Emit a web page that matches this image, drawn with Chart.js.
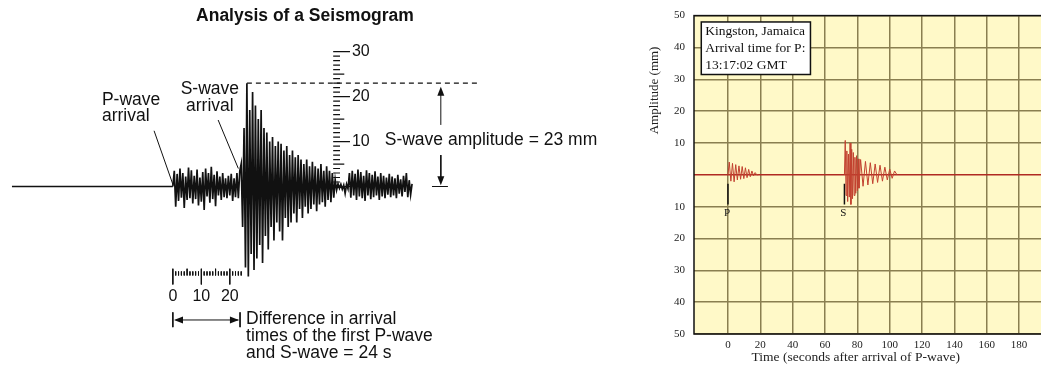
<!DOCTYPE html>
<html>
<head>
<meta charset="utf-8">
<script src="https://cdn.jsdelivr.net/npm/chart.js@4.4.1/dist/chart.umd.min.js"></script>
<style>
    html, body { margin: 0; padding: 0; overflow: hidden; background: #fff; width: 1041px; height: 373px; }
    #seismo-left { position: absolute; left: 0; top: 0; }
    #seismo-right { position: absolute; left: 600px; top: 0; }
</style>
</head>
<body>
<canvas id="seismo-left" width="600" height="373"></canvas>
<canvas id="seismo-right" width="500" height="373"></canvas>
<script>
// ---- left panel: textbook seismogram (time in s, amplitude in mm) ----
const seisStep = 0.5
const seisAmp = [
    0, 3.5, -4.5, 2.8, -3.2, 4.0, -2.5, 3.0, -4.8, 2.2,
    -3.0, 4.2, -2.6, 3.6, -3.8, 2.4, -2.8, 3.8, -4.2, 2.0,
    -3.4, 3.2, -5.2, 4.0, -2.2, 3.0, -3.6, 4.4, -2.8, 2.6,
    -4.4, 3.4, -2.0, 2.2, -3.0, 3.0, -2.4, 1.8, -2.6, 2.4,
    -2.0, 2.8, -3.2, 1.8, -2.4, 3.0, -2.6, 3.4,
    5, -9, 13, -18, 23, -20, 17, -15, 21, -18.6,
    18, -16, 15, -13, 17, -17, 13, -11, 12, -14,
    10, -9, 11, -12, 9, -8, 10, -10, 9.5, -12,
    8, -7, 9, -9, 7, -8, 8, -6, 6.5, -8,
    7, -5, 6, -7, 5, -4.5, 6, -6, 4.5, -5,
    5.5, -4, 4.5, -5.5, 4, -4, 5, -3.5, 3.5, -4.5,
    4.5, -3, 3.5, -3.5, 3, -2.5, 1.5, -0.8, 0.6, -0.4,
    0.5, -0.6, 0.3, -1.5, 0.5, -0.5,
    3, -2.5, 3.5, -2, 2.8, -3, 3.8, -2.2, 3.2, -2.6,
    2.4, -3.2, 3.6, -2, 3, -2.8, 2.6, -2.4, 3.4, -2,
    2.2, -3, 3, -2.2, 2.4, -2.6, 2, -1.8, 2.8, -2.4,
    2.2, -2, 1.8, -2.6, 2.6, -1.6, 1.6, -2.2, 2.4, -1.2,
    3, -2.4, 1.4, -1.8, 0.6
]
const preEventStart = -56.5
const timeRulerTicks = [0, 1, 2, 3, 4, 5, 6, 7, 8, 9, 10, 11, 12, 13, 14, 15, 16, 17, 18, 19, 20, 21, 22, 23, 24]
const timeLabels = [0, 10, 20]
const ampRulerTicks = [0, 1, 2, 3, 4, 5, 6, 7, 8, 9, 10, 11, 12, 13, 14, 15, 16, 17, 18, 19, 20, 21, 22, 23, 24, 25, 26, 27, 28, 29, 30]
const ampLabels = [10, 20, 30]
const sAmplitude = 23   // mm
const spDifference = 24 // s

// ---- right panel: Kingston, Jamaica record ----
const pTime = [0, 0.8, 1.8, 2.8, 3.8, 4.8, 5.8, 6.8, 7.8, 8.8, 9.8, 10.8, 11.8, 12.8, 13.8, 14.8, 15.8, 16.8, 17.8, 18.8]
const pAmp = [0, 4, -2, 3.6, -2.2, 3.2, -1.6, 2.8, -1.4, 2.6, -1.2, 2.2, -0.9, 1.7, -0.6, 1.2, -0.3, 0.7, 0, 0]
const sTime = [72, 72.5, 73, 73.5, 74, 74.5, 75, 75.5, 76, 76.5, 77, 77.5, 78, 78.5, 79, 79.5, 80, 80.5, 81,
    82, 83.5, 85, 86.5, 88, 89.5, 91, 92.5, 94, 95.5, 97, 98.5, 100, 101.5, 103, 104.5]
const sAmp = [0, 10.8, -6.5, 7.5, -8.4, 6.5, -7, 10, -9.3, 8, -7.5, 7, -6.5, 5.5, -5.8, 6, -5, 5, -4.2,
    4.8, -3.6, 4.2, -3.2, 3.8, -2.8, 3.4, -2.4, 3, -2, 2.4, -1.6, 1.8, -1.1, 1.2, 0]
const xTicks = [0, 20, 40, 60, 80, 100, 120, 140, 160, 180, 200, 220]
const yTicks = [-50, -40, -30, -20, -10, 0, 10, 20, 30, 40, 50]
const pArrival = 0
const sArrival = 72
const stationLines = ['Kingston, Jamaica', 'Arrival time for P:', '13:17:02 GMT']

const ink = '#111'
const sans = "'Liberation Sans', Arial, sans-serif"
const serif = "'Liberation Serif', 'Times New Roman', serif"

// turn a list of segments into one dataset with gaps
function segments(list) {
    const out = []
    list.forEach(s => {
        s.forEach(p => out.push({ x: p[0], y: p[1] }))
        out.push({ x: s[0][0], y: null })
    })
    return out
}

function lineSet(data, width, dash) {
    return {
        data: data, borderColor: ink, borderWidth: width, borderDash: dash || [],
        pointRadius: 0, fill: false, tension: 0, spanGaps: false
    }
}

// Left panel.
const timeRuler = timeRulerTicks.map(t => {
    if (t % 10 === 0) return [[t, -18.3], [t, -21.8]]
    if (t % 5 === 0) return [[t, -18.3], [t, -19.8]]
    return [[t, -18.9], [t, -19.8]]
})
const ampRuler = ampRulerTicks.map(a => {
    if (a % 10 === 0) return [[56.3, a], [62.2, a]]
    if (a % 5 === 0) return [[56.3, a], [60.2, a]]
    return [[56.3, a], [58.7, a]]
})
const guides = [
    [[-6.6, 12.4], [0.1, 0.3]],
    [[15.9, 14.8], [23.0, 4.0]],
    [[94.1, 13.7], [94.1, 21]],
    [[94.1, 7], [94.1, 1.5]],
    [[91, 0], [96.6, 0]],
    [[1, -29.7], [23, -29.7]],
    [[0, -28.0], [0, -31.3]],
    [[23.6, -28.0], [23.6, -31.3]]
]

const leftText = [
    { text: 'Analysis of a Seismogram', t: 46.4, a: 37.9, align: 'center', font: 'bold 17.5px ' + sans },
    { text: 'P-wave', t: -24.9, a: 19.2, align: 'left', font: '17.5px ' + sans },
    { text: 'arrival', t: -24.9, a: 15.6, align: 'left', font: '17.5px ' + sans },
    { text: 'S-wave', t: 13.0, a: 21.7, align: 'center', font: '17.5px ' + sans },
    { text: 'arrival', t: 13.0, a: 17.8, align: 'center', font: '17.5px ' + sans },
    { text: 'S-wave amplitude = ' + sAmplitude + ' mm', t: 74.4, a: 10.3, align: 'left', font: '17.5px ' + sans },
    { text: 'Difference in arrival', t: 25.7, a: -29.6, align: 'left', font: '17.5px ' + sans },
    { text: 'times of the first P-wave', t: 25.7, a: -33.3, align: 'left', font: '17.5px ' + sans },
    { text: 'and S-wave = ' + spDifference + ' s', t: 25.7, a: -37.1, align: 'left', font: '17.5px ' + sans }
]
ampLabels.forEach(v => leftText.push({ text: String(v), t: 62.9, a: v, align: 'left', font: '16px ' + sans }))
timeLabels.forEach(v => leftText.push({ text: String(v), t: v, a: -24.4, align: 'center', font: '16px ' + sans }))

const arrowHeads = [
    { t: 94.1, a: 22.2, dir: 'up' },
    { t: 94.1, a: 0.3, dir: 'down' },
    { t: 0.4, a: -29.7, dir: 'left' },
    { t: 23.2, a: -29.7, dir: 'right' }
]

const leftNotes = {
    id: 'leftNotes',
    afterDatasetsDraw(chart) {
        const { ctx, scales: { x, y } } = chart
        ctx.save()
        ctx.fillStyle = ink
        ctx.textBaseline = 'middle'
        leftText.forEach(n => {
            ctx.font = n.font
            ctx.textAlign = n.align
            ctx.fillText(n.text, x.getPixelForValue(n.t), y.getPixelForValue(n.a))
        })
        arrowHeads.forEach(h => {
            const px = x.getPixelForValue(h.t), py = y.getPixelForValue(h.a)
            const d = { up: [0, 1], down: [0, -1], left: [1, 0], right: [-1, 0] }[h.dir]
            const len = 9, half = 3.5
            ctx.beginPath()
            ctx.moveTo(px, py)
            ctx.lineTo(px + d[0] * len - d[1] * half, py + d[1] * len + d[0] * half)
            ctx.lineTo(px + d[0] * len + d[1] * half, py + d[1] * len - d[0] * half)
            ctx.closePath()
            ctx.fill()
        })
        ctx.restore()
    }
}

new Chart(document.getElementById('seismo-left'), {
    type: 'line',
    data: {
        datasets: [
            lineSet([{ x: preEventStart, y: 0 }, { x: 0, y: 0 }], 1.3),
            lineSet(seisAmp.map((a, i) => ({ x: i * seisStep, y: a })), 1.7),
            lineSet([{ x: 26, y: sAmplitude }, { x: 108, y: sAmplitude }], 1.2, [5, 4]),
            lineSet(segments(timeRuler), 1),
            lineSet(segments(ampRuler), 1.2),
            lineSet(segments(guides), 1)
        ]
    },
    options: {
        responsive: false,
        animation: false,
        layout: { padding: { left: 2, right: 0, top: 0, bottom: 0 } },
        plugins: { legend: { display: false }, tooltip: { enabled: false } },
        scales: {
            x: { type: 'linear', min: -60, max: 150, display: false },
            y: { type: 'linear', min: -41.5, max: 41.5, display: false }
        }
    },
    plugins: [leftNotes]
});

// Right panel.
const paper = '#FFF9C8'
const gridColor = '#8a7f50'
const baseRed = '#B02A22'
const waveRed = '#C2412F'

const rightDecor = {
    id: 'rightDecor',
    beforeDraw(chart) {
        const { ctx, chartArea: c } = chart
        ctx.save()
        ctx.fillStyle = paper
        ctx.fillRect(c.left, c.top, c.right - c.left, c.bottom - c.top)
        ctx.restore()
    },
    afterDatasetsDraw(chart) {
        const { ctx, chartArea: c, scales: { x, y } } = chart
        ctx.save()
        ctx.strokeStyle = ink
        ctx.lineWidth = 1.5
        ctx.strokeRect(c.left, c.top, c.right - c.left, c.bottom - c.top)

        // station box
        const bx = x.getPixelForValue(-16.5), by = y.getPixelForValue(48)
        const bw = x.getPixelForValue(51) - bx, bh = y.getPixelForValue(31.5) - by
        ctx.fillStyle = '#fff'
        ctx.fillRect(bx, by, bw, bh)
        ctx.strokeRect(bx, by, bw, bh)
        ctx.fillStyle = ink
        ctx.font = '13.5px ' + serif
        ctx.textAlign = 'left'
        ctx.textBaseline = 'middle'
        stationLines.forEach((s, i) => ctx.fillText(s, bx + 4, by + 9.5 + i * 17))

        // phase labels
        ctx.font = '11px ' + serif
        ctx.textAlign = 'center'
        ctx.fillText('P', x.getPixelForValue(pArrival) - 1, y.getPixelForValue(-12))
        ctx.fillText('S', x.getPixelForValue(sArrival) - 1, y.getPixelForValue(-12))

        // axis titles
        ctx.fillStyle = '#222'
        ctx.font = '13.5px ' + serif
        ctx.fillText('Time (seconds after arrival of P-wave)', x.getPixelForValue(79), 357)
        ctx.translate(c.left - 39, y.getPixelForValue(26.5))
        ctx.rotate(-Math.PI / 2)
        ctx.font = '13px ' + serif
        ctx.fillText('Amplitude (mm)', 0, 0)
        ctx.restore()
    }
}

new Chart(document.getElementById('seismo-right'), {
    type: 'line',
    data: {
        datasets: [
            { data: pTime.map((t, i) => ({ x: t, y: pAmp[i] })), borderColor: waveRed, borderWidth: 1, pointRadius: 0, tension: 0 },
            { data: sTime.map((t, i) => ({ x: t, y: sAmp[i] })), borderColor: waveRed, borderWidth: 1, pointRadius: 0, tension: 0 },
            lineSet([{ x: pArrival, y: -2.8 }, { x: pArrival, y: -9.3 }], 1.5),
            lineSet([{ x: sArrival, y: -2.8 }, { x: sArrival, y: -9.3 }], 1.5)
        ]
    },
    options: {
        responsive: false,
        animation: false,
        layout: { padding: { top: 11, right: 0, left: 0, bottom: 0 } },
        plugins: { legend: { display: false }, tooltip: { enabled: false } },
        scales: {
            x: {
                type: 'linear', min: -21, max: 230,
                afterBuildTicks: s => { s.ticks = xTicks.map(v => ({ value: v })) },
                afterFit: s => { s.height = 39 },
                grid: { color: gridColor, lineWidth: 1.5, drawTicks: false },
                border: { display: false },
                ticks: { padding: 5, autoSkip: false, maxRotation: 0, color: '#222', font: { family: serif, size: 11 } }
            },
            y: {
                type: 'linear', min: -50, max: 50,
                afterBuildTicks: s => { s.ticks = yTicks.map(v => ({ value: v })) },
                afterFit: s => { s.width = 94 },
                grid: {
                    color: c => (c.tick && c.tick.value === 0) ? baseRed : gridColor,
                    lineWidth: 1.5, drawTicks: false
                },
                border: { display: false },
                ticks: {
                    padding: 9, color: '#222', font: { family: serif, size: 11 },
                    callback: v => v === 0 ? '' : Math.abs(v)
                }
            }
        }
    },
    plugins: [rightDecor]
});
</script>
</body>
</html>
